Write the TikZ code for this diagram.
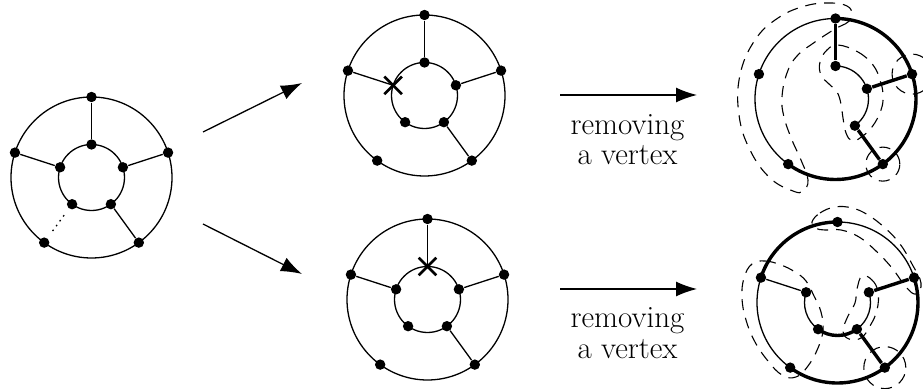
\documentclass[tikz,border=0pt]{standalone}
\usepackage{fontspec}
\usetikzlibrary{arrows.meta,shapes.misc}
\tikzset{
  vtx/.style={circle, fill=black, inner sep=0pt, minimum size=5.2pt},
  edge/.style={line width=0.65pt},
  bold/.style={line width=1.7pt},
  dsh/.style={line width=0.55pt, dash pattern=on 5.5pt off 4pt},
  dotsp/.style={line width=0.65pt, dash pattern=on 0.8pt off 2.2pt, shorten <=4pt, shorten >=4pt},
  xmark/.style={cross out, draw, line width=1.3pt, minimum size=7.5pt, inner sep=0pt},
  arrowl/.style={line width=0.65pt, -{Latex[length=10.5pt,width=7.5pt]}},
  lbl/.style={font=\fontsize{15.5}{15.5}\selectfont, anchor=base, inner sep=0pt}
}
\begin{document}
\begin{tikzpicture}[x=0.5pt,y=0.5pt]
\useasboundingbox (0,0) rectangle (923,-389);
\clip (0,0) rectangle (923,-389);

% ---------- left graph ----------
\begin{scope}[shift={(91.5,-177.5)}]
  \draw[edge] (0,0) circle[radius=80.5];
  \draw[edge] (0,0) circle[radius=33];
  \node[vtx] (Lo1) at (90:80.5) {};
  \node[vtx] (Lo2) at (162:80.5) {};
  \node[vtx] (Lo3) at (234:80.5) {};
  \node[vtx] (Lo4) at (306:80.5) {};
  \node[vtx] (Lo5) at (18:80.5) {};
  \node[vtx] (Li1) at (90:33) {};
  \node[vtx] (Li2) at (162:33) {};
  \node[vtx] (Li3) at (234:33) {};
  \node[vtx] (Li4) at (306:33) {};
  \node[vtx] (Li5) at (18:33) {};
  \draw[edge] (Li1) -- (Lo1);
  \draw[edge] (Li2) -- (Lo2);
  \draw[edge] (Li4) -- (Lo4);
  \draw[edge] (Li5) -- (Lo5);
  \draw[dotsp] (Li3) -- (Lo3);
\end{scope}

% ---------- top middle graph ----------
\begin{scope}[shift={(424.5,-95.5)}]
  \draw[edge] (0,0) circle[radius=80.5];
  \draw[edge] (0,0) circle[radius=33];
  \node[vtx] (Mo1) at (90:80.5) {};
  \node[vtx] (Mo2) at (162:80.5) {};
  \node[vtx] (Mo3) at (234:80.5) {};
  \node[vtx] (Mo4) at (306:80.5) {};
  \node[vtx] (Mo5) at (18:80.5) {};
  \node[vtx] (Mi1) at (90:33) {};
  \node[xmark] (Mx) at (162:33) {};
  \node[vtx] (Mi3) at (234:33) {};
  \node[vtx] (Mi4) at (306:33) {};
  \node[vtx] (Mi5) at (18:33) {};
  \draw[edge] (Mi1) -- (Mo1);
  \draw[edge] (Mx.center) -- (Mo2);
  \draw[edge] (Mi4) -- (Mo4);
  \draw[edge] (Mi5) -- (Mo5);
\end{scope}

% ---------- bottom middle graph ----------
\begin{scope}[shift={(427.5,-299.5)}]
  \draw[edge] (0,0) circle[radius=80.5];
  \draw[edge] (0,0) circle[radius=33];
  \node[vtx] (No1) at (90:80.5) {};
  \node[vtx] (No2) at (162:80.5) {};
  \node[vtx] (No3) at (234:80.5) {};
  \node[vtx] (No4) at (306:80.5) {};
  \node[vtx] (No5) at (18:80.5) {};
  \node[xmark] (Nx) at (90:33) {};
  \node[vtx] (Ni2) at (162:33) {};
  \node[vtx] (Ni3) at (234:33) {};
  \node[vtx] (Ni4) at (306:33) {};
  \node[vtx] (Ni5) at (18:33) {};
  \draw[edge] (Nx.center) -- (No1);
  \draw[edge] (Ni2) -- (No2);
  \draw[edge] (Ni4) -- (No4);
  \draw[edge] (Ni5) -- (No5);
\end{scope}

% ---------- top right graph ----------
\begin{scope}[shift={(835.5,-99)}]
  \draw[edge] (90:80.5) arc[start angle=90, end angle=234, radius=80.5];
  \draw[bold] (90:80.5) arc[start angle=90, end angle=-126, radius=80.5];
  \draw[edge] (90:33) arc[start angle=90, end angle=-54, radius=33];
  \node[vtx] (Po1) at (90:80.5) {};
  \node[vtx] (Po2) at (162:80.5) {};
  \node[vtx] (Po3) at (234:80.5) {};
  \node[vtx] (Po4) at (306:80.5) {};
  \node[vtx] (Po5) at (18:80.5) {};
  \node[vtx] (Pi1) at (90:33) {};
  \node[vtx] (Pi4) at (306:33) {};
  \node[vtx] (Pi5) at (18:33) {};
  \draw[bold] (Pi1) -- (Po1);
  \draw[bold] (Pi5) -- (Po5);
  \draw[bold] (Pi4) -- (Po4);
  \draw[dsh] (Po5.center) circle[radius=20];
  \draw[dsh] (Po4.center) circle[radius=17];
\end{scope}
\draw[dsh] plot[smooth cycle, tension=0.7] coordinates {
  (852,-14) (848,-22) (835,-29) (815,-42) (797,-56) (787,-73) (782,-97)
  (784,-117) (792,-140) (801,-160) (808,-180) (803,-191) (793,-191)
  (770,-178) (750,-150) (739,-115) (740,-75) (755,-40) (778,-18)
  (805,-6) (830,-3) (847,-6)};
\draw[dsh] plot[smooth cycle, tension=0.7] coordinates {
  (838,-45) (858,-52) (873,-65) (880,-80) (883,-95) (881,-110) (872,-127)
  (860,-138) (852,-141) (846,-133) (843,-118) (841,-104) (837,-92)
  (829,-84) (821,-75) (820,-62) (827,-50)};

% ---------- bottom right graph ----------
\begin{scope}[shift={(837.5,-302.5)}]
  \draw[bold] (90:80.5) arc[start angle=90, end angle=162, radius=80.5];
  \draw[edge] (18:80.5) arc[start angle=18, end angle=90, radius=80.5];
  \draw[edge] (162:80.5) arc[start angle=162, end angle=234, radius=80.5];
  \draw[bold] (234:80.5) arc[start angle=234, end angle=378, radius=80.5];
  \draw[edge] (162:33) arc[start angle=162, end angle=234, radius=33];
  \draw[bold] (234:33) arc[start angle=234, end angle=306, radius=33];
  \draw[edge] (306:33) arc[start angle=306, end angle=378, radius=33];
  \node[vtx] (Qo1) at (90:80.5) {};
  \node[vtx] (Qo2) at (162:80.5) {};
  \node[vtx] (Qo3) at (234:80.5) {};
  \node[vtx] (Qo4) at (306:80.5) {};
  \node[vtx] (Qo5) at (18:80.5) {};
  \node[vtx] (Qi2) at (162:33) {};
  \node[vtx] (Qi3) at (234:33) {};
  \node[vtx] (Qi4) at (306:33) {};
  \node[vtx] (Qi5) at (18:33) {};
  \draw[edge] (Qi2) -- (Qo2);
  \draw[bold] (Qi5) -- (Qo5);
  \draw[bold] (Qi4) -- (Qo4);
  \draw[dsh] (Qo4.center) circle[radius=21];
\end{scope}
\draw[dsh] plot[smooth cycle, tension=0.7] coordinates {
  (812,-222) (820,-213) (835,-207) (852,-208) (868,-215) (885,-228)
  (900,-244) (912,-264) (921,-283) (916,-294) (906,-287) (892,-268)
  (876,-251) (859,-237) (841,-230) (825,-230) (815,-228)};
\draw[dsh] plot[smooth cycle, tension=0.7] coordinates {
  (752,-264) (765,-261) (781,-265) (795,-272) (806,-281) (814,-296)
  (821,-312) (823,-330) (818,-348) (808,-366) (796,-377) (782,-375)
  (768,-361) (755,-342) (746,-320) (742,-298) (744,-278)};
\draw[dsh] plot[smooth cycle, tension=0.7] coordinates {
  (862,-276) (872,-280) (878,-292) (877,-310) (870,-326) (861,-338)
  (849,-339) (843,-331) (848,-316) (855,-303) (857,-289)};

% ---------- arrows ----------
\coordinate (a1s) at (203,-132);
\coordinate (a1e) at (302,-83);
\coordinate (a2s) at (203,-224);
\coordinate (a2e) at (302,-274);
\coordinate (h1s) at (560,-95);
\coordinate (h1e) at (697,-95);
\coordinate (h2s) at (560,-289);
\coordinate (h2e) at (697,-289);
\draw[arrowl] (a1s) -- (a1e);
\draw[arrowl] (a2s) -- (a2e);
\draw[arrowl] (h1s) -- (h1e);
\draw[arrowl] (h2s) -- (h2e);

% ---------- labels ----------
\node[lbl] (t1a) at (627.5,-134.3) {removing};
\node[lbl] (t1b) at (627.5,-165) {a vertex};
\node[lbl] (t2a) at (627.5,-328) {removing};
\node[lbl] (t2b) at (627.5,-359) {a vertex};
\end{tikzpicture}
\end{document}
